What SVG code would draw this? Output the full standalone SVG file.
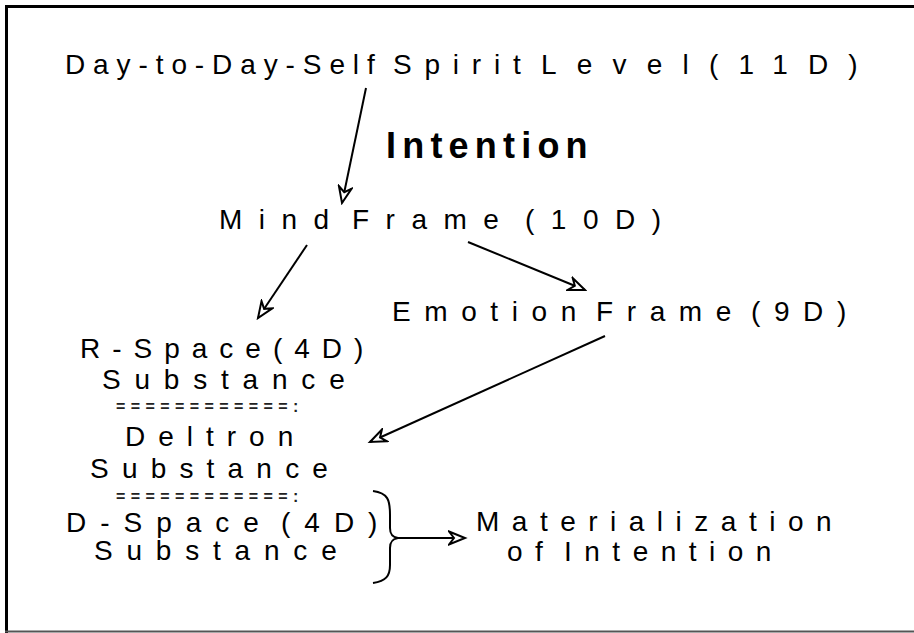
<svg xmlns="http://www.w3.org/2000/svg" width="914" height="633" viewBox="0 0 914 633">
<style>
text{font-family:"Liberation Sans",Arial,sans-serif;fill:#000}
.t{font-size:28px}
.b{font-size:36px;font-weight:bold}
.eq{font-size:16px;font-weight:bold;fill:#222;letter-spacing:5.4px}
.c{stroke:#000;stroke-width:2;fill:none}
</style>
<defs>
<marker id="ah" markerUnits="userSpaceOnUse" markerWidth="20" markerHeight="16" refX="0" refY="0" viewBox="-17 -8 19 16" orient="auto">
<path d="M-16,-6.5 L0,0 L-16,6.5 L-11,0 Z" fill="#fff" stroke="#000" stroke-width="2" stroke-linejoin="miter"/>
</marker>
</defs>
<rect width="914" height="633" fill="#fff"/>
<g id="frame">
<line x1="5" y1="6.5" x2="914" y2="6.5" stroke="#000" stroke-width="3"/>
<line x1="6.5" y1="5" x2="6.5" y2="633" stroke="#000" stroke-width="3"/>
<line x1="5" y1="631.5" x2="914" y2="631.5" stroke="#555" stroke-width="2"/>
</g>
<g id="spirit">
<text class="t" y="74"><tspan x="65" letter-spacing="7.9">Day-to-Day-Self</tspan><tspan x="393" letter-spacing="12.8">Spirit</tspan><tspan x="541" letter-spacing="20.2">Level(11D)</tspan></text>
</g>
<g id="intention"><text class="b" x="386" y="158" letter-spacing="6.2">Intention</text></g>
<g id="mind">
<text class="t" y="229" letter-spacing="16.5"><tspan x="219">Mind</tspan><tspan x="352">Frame</tspan><tspan x="525">(10D)</tspan></text>
</g>
<g id="emotion">
<text class="t" y="321" letter-spacing="13.6"><tspan x="392">Emotion</tspan><tspan x="596">Frame</tspan><tspan x="751">(9D)</tspan></text>
</g>
<g id="rspace">
<text class="t" x="80" y="358" letter-spacing="12">R-Space(4D)</text>
<text class="t" x="102" y="389" letter-spacing="13.8">Substance</text>
</g>
<g id="sep1"><text class="eq" x="116" y="412">============:</text></g>
<g id="deltron">
<text class="t" x="125" y="446" letter-spacing="13">Deltron</text>
<text class="t" x="90" y="478" letter-spacing="13.2">Substance</text>
</g>
<g id="sep2"><text class="eq" x="116" y="502">============:</text></g>
<g id="dspace">
<text class="t" y="532" letter-spacing="14"><tspan x="66">D-Space</tspan><tspan x="281">(4D)</tspan></text>
<text class="t" x="94" y="560" letter-spacing="13.8">Substance</text>
</g>
<g id="brace"><path class="c" d="M373,491 C388,493 390,500 390,515 L390,528 C390,534 392,537 398,538 C392,539 390,542 390,548 L390,565 C390,576 386,581 373,583"/></g>
<g id="materialization">
<text class="t" x="476" y="531" letter-spacing="12.5">Materialization</text>
<text class="t" y="561" letter-spacing="12.5"><tspan x="507">of</tspan><tspan x="564">Intention</tspan></text>
</g>
<g id="connectors">
<line class="c" x1="366" y1="88" x2="342" y2="203" marker-end="url(#ah)"/>
<line class="c" x1="307" y1="245" x2="258" y2="318" marker-end="url(#ah)"/>
<line class="c" x1="468" y1="242" x2="585" y2="290" marker-end="url(#ah)"/>
<line class="c" x1="605" y1="336" x2="370" y2="442" marker-end="url(#ah)"/>
<line class="c" x1="398" y1="538" x2="465" y2="538" marker-end="url(#ah)"/>
</g>
</svg>
